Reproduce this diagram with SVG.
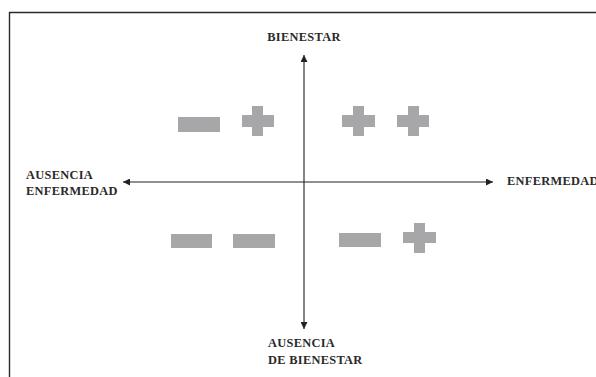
<svg xmlns="http://www.w3.org/2000/svg" width="596" height="377" viewBox="0 0 596 377">
<defs>
<marker id="ah" viewBox="0 0 10 10" refX="10" refY="5" markerWidth="7" markerHeight="7" markerUnits="userSpaceOnUse" orient="auto"><path d="M0,0 L10,5 L0,10 z" fill="#222"/></marker>
<style>
.lbl{font-family:"Liberation Serif","Times New Roman",serif;font-weight:bold;font-size:12.4px;letter-spacing:0.3px;fill:#2a2a2a}
.sym{fill:#a7a7aa}
.ax{stroke:#222;stroke-width:1.1;fill:none}
</style>
</defs>
<rect width="596" height="377" fill="#fff"/>
<path d="M9.5,377 L9.5,12.5 L596,12.5" fill="none" stroke="#2a2a2a" stroke-width="1.4"/>
<g id="connectors">
<line class="ax" x1="304" y1="182" x2="304" y2="55" marker-end="url(#ah)"/>
<line class="ax" x1="304" y1="182" x2="304" y2="329" marker-end="url(#ah)"/>
<line class="ax" x1="304" y1="182" x2="123" y2="182" marker-end="url(#ah)"/>
<line class="ax" x1="304" y1="182" x2="493" y2="182" marker-end="url(#ah)"/>
</g>
<g id="bienestar"><text class="lbl" x="304" y="41" text-anchor="middle">BIENESTAR</text></g>
<g id="ausencia-enfermedad"><text class="lbl" x="26" y="179">AUSENCIA</text><text class="lbl" x="26" y="195">ENFERMEDAD</text></g>
<g id="enfermedad"><text class="lbl" x="507" y="185">ENFERMEDAD</text></g>
<g id="ausencia-bienestar"><text class="lbl" x="268" y="347">AUSENCIA</text><text class="lbl" x="268" y="364">DE BIENESTAR</text></g>
<g id="q-top-left">
<rect class="sym" x="178" y="117" width="42" height="15"/>
<path class="sym" d="M252,106 h11 v9 h11 v12 h-11 v9 h-11 v-9 h-10 v-12 h10 z"/>
</g>
<g id="q-top-right">
<path class="sym" d="M353,106 h11 v9 h11 v12 h-11 v9 h-11 v-9 h-11 v-12 h11 z"/>
<path class="sym" d="M408,106 h11 v9 h10 v12 h-10 v9 h-11 v-9 h-11 v-12 h11 z"/>
</g>
<g id="q-bottom-left">
<rect class="sym" x="171" y="234" width="41" height="14"/>
<rect class="sym" x="233" y="234" width="42" height="14"/>
</g>
<g id="q-bottom-right">
<rect class="sym" x="339" y="233" width="42" height="14"/>
<path class="sym" d="M414,223 h11 v9 h11 v11 h-11 v10 h-11 v-10 h-11 v-11 h11 z"/>
</g>
</svg>
